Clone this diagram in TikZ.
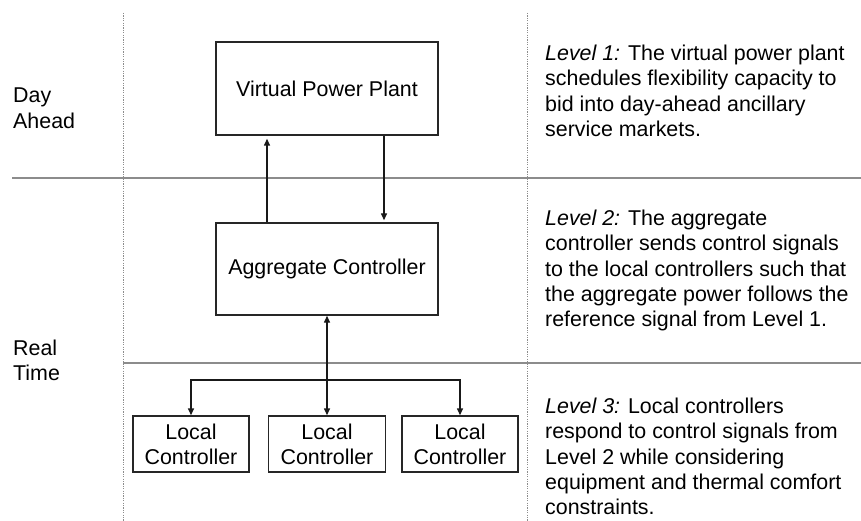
\documentclass[tikz,border=0pt]{standalone}
\usepackage{fontspec}
\setmainfont{Liberation Sans}
\usetikzlibrary{arrows.meta}
\begin{document}
\begin{tikzpicture}[x=1pt,y=-1pt,
  every node/.style={font=\fontsize{21.4}{25.2}\selectfont},
  box/.style={draw=black!85,line width=1.4pt,rectangle,inner sep=0pt,align=center},
  arr/.style={draw=black!90,line width=1.4pt,-{Triangle[length=7pt,width=6pt]}},
  biarr/.style={draw=black!90,line width=1.4pt,{Triangle[length=7pt,width=6pt]}-{Triangle[length=7pt,width=6pt]}},
  sep/.style={draw=black!45,line width=1.2pt},
  dotsep/.style={draw=black!45,line width=1pt,dash pattern=on 1.2pt off 1.2pt},
  txt/.style={anchor=north west,align=left,inner sep=0pt}]
\useasboundingbox (0,0) rectangle (861,521);
% separators
\coordinate (d1t) at (123,13); \coordinate (d1b) at (123,521);
\coordinate (d2t) at (527,13); \coordinate (d2b) at (527,521);
\coordinate (h1l) at (12,178); \coordinate (h1r) at (861,178);
\coordinate (h2l) at (123,363); \coordinate (h2r) at (861,363);
\draw[dotsep] (d1t) -- (d1b);
\draw[dotsep] (d2t) -- (d2b);
\draw[sep] (h1l) -- (h1r);
\draw[sep] (h2l) -- (h2r);
% boxes
\node[box,minimum width=222pt,minimum height=93pt] (vpp) at (327,88.5) {Virtual Power Plant};
\node[box,minimum width=222pt,minimum height=92pt] (agg) at (327,269) {Aggregate Controller};
\node[box,minimum width=116pt,minimum height=56pt] (lc1) at (191,444) {Local\\Controller};
\node[box,minimum width=117pt,minimum height=56pt] (lc2) at (327,444) {Local\\Controller};
\node[box,minimum width=116pt,minimum height=56pt] (lc3) at (460,444) {Local\\Controller};
% connectors
\draw[arr,shorten >=3pt] ([xshift=-60pt]agg.north) -- ([xshift=-60pt]vpp.south);
\draw[arr,shorten >=2pt] ([xshift=57pt]vpp.south) -- ([xshift=57pt]agg.north);
\draw[biarr] (agg.south) -- (lc2.north);
\coordinate (bus) at (327,380);
\draw[arr] (bus) -| (lc1.north);
\draw[arr] (bus) -| (lc3.north);
% left labels
\node[txt] (da) at (13,88) {Day\\Ahead};
\node[txt] (rt) at (13,340) {Real\\Time};
% right descriptions
\node[txt] (l1) at (545,45) {{\itshape Level 1:} The virtual power plant\\schedules flexibility capacity to\\bid into day-ahead ancillary\\service markets.};
\node[txt] (l2) at (545,210) {{\itshape Level 2:} The aggregate\\controller sends control signals\\to the local controllers such that\\the aggregate power follows the\\reference signal from Level 1.};
\node[txt] (l3) at (545,398) {{\itshape Level 3:} Local controllers\\respond to control signals from\\Level 2 while considering\\equipment and thermal comfort\\constraints.};
\end{tikzpicture}
\end{document}
